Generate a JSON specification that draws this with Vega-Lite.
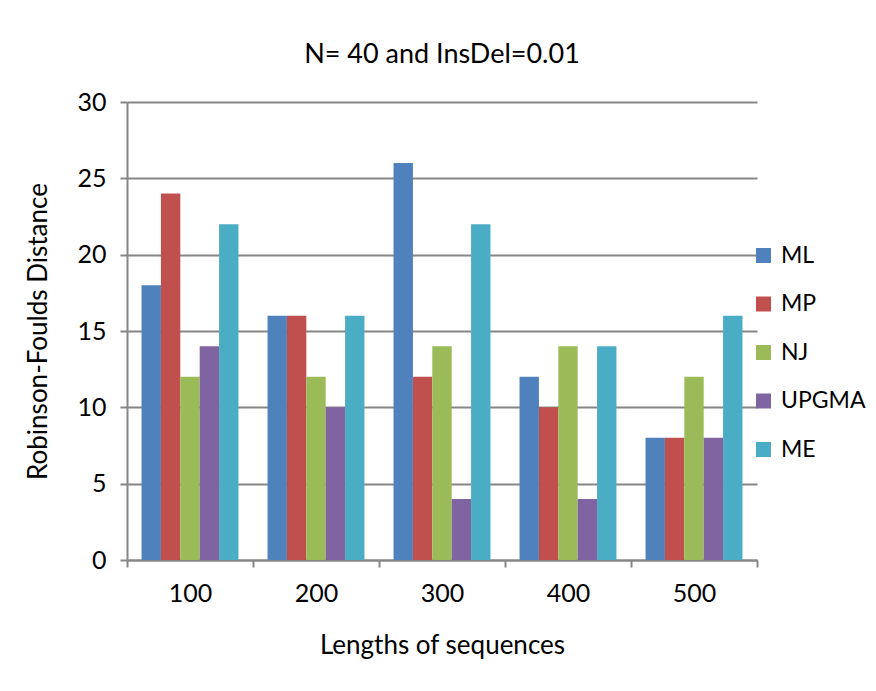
{
  "$schema": "https://vega.github.io/schema/vega-lite/v6.json",
  "width": 630,
  "height": 458,
  "autosize": {"type": "none"},
  "padding": {"left": 127, "top": 102, "right": 119, "bottom": 131},
  "background": "white",
  "title": {"text": "N= 40 and InsDel=0.01", "fontSize": 27, "fontWeight": "normal", "font": "Lato", "color": "#000000", "anchor": "middle", "offset": 21},
  "data": {"values": [
    {"len": "100", "method": "ML", "rf": 18},
    {"len": "100", "method": "MP", "rf": 24},
    {"len": "100", "method": "NJ", "rf": 12},
    {"len": "100", "method": "UPGMA", "rf": 14},
    {"len": "100", "method": "ME", "rf": 22},
    {"len": "200", "method": "ML", "rf": 16},
    {"len": "200", "method": "MP", "rf": 16},
    {"len": "200", "method": "NJ", "rf": 12},
    {"len": "200", "method": "UPGMA", "rf": 10},
    {"len": "200", "method": "ME", "rf": 16},
    {"len": "300", "method": "ML", "rf": 26},
    {"len": "300", "method": "MP", "rf": 12},
    {"len": "300", "method": "NJ", "rf": 14},
    {"len": "300", "method": "UPGMA", "rf": 4},
    {"len": "300", "method": "ME", "rf": 22},
    {"len": "400", "method": "ML", "rf": 12},
    {"len": "400", "method": "MP", "rf": 10},
    {"len": "400", "method": "NJ", "rf": 14},
    {"len": "400", "method": "UPGMA", "rf": 4},
    {"len": "400", "method": "ME", "rf": 14},
    {"len": "500", "method": "ML", "rf": 8},
    {"len": "500", "method": "MP", "rf": 8},
    {"len": "500", "method": "NJ", "rf": 12},
    {"len": "500", "method": "UPGMA", "rf": 8},
    {"len": "500", "method": "ME", "rf": 16}
  ]},
  "mark": {"type": "bar"},
  "encoding": {
    "x": {
      "field": "len", "type": "nominal",
      "scale": {"paddingInner": 0, "paddingOuter": 0},
      "axis": {
        "title": "Lengths of sequences", "titleFontSize": 26, "titleFontWeight": "normal", "titleFont": "Lato", "titleColor": "#000000", "titlePadding": 26,
        "labelAngle": 0, "labelFontSize": 25, "labelFont": "Lato", "labelColor": "#000000", "labelPadding": 14,
        "tickBand": "extent", "tickSize": 7, "tickColor": "#868686", "tickWidth": 2,
        "domainColor": "#868686", "domainWidth": 2, "grid": false
      }
    },
    "xOffset": {"field": "method", "type": "nominal", "sort": ["ML", "MP", "NJ", "UPGMA", "ME"], "scale": {"paddingInner": 0, "paddingOuter": 0.75}},
    "y": {
      "field": "rf", "type": "quantitative",
      "scale": {"domain": [0, 30], "nice": false},
      "axis": {
        "title": "Robinson-Foulds Distance", "titleFontSize": 26, "titleFontWeight": "normal", "titleFont": "Lato", "titleColor": "#000000", "titlePadding": 25,
        "values": [0, 5, 10, 15, 20, 25, 30],
        "labelFontSize": 25, "labelFont": "Lato", "labelColor": "#000000", "labelPadding": 14,
        "tickSize": 7, "tickColor": "#868686", "tickWidth": 2,
        "domainColor": "#868686", "domainWidth": 2,
        "grid": true, "gridColor": "#868686", "gridWidth": 2
      }
    },
    "color": {
      "field": "method", "type": "nominal",
      "sort": ["ML", "MP", "NJ", "UPGMA", "ME"],
      "scale": {"domain": ["ML", "MP", "NJ", "UPGMA", "ME"], "range": ["#4F81BD", "#C0504D", "#9BBB59", "#8064A2", "#4BACC6"]},
      "legend": {
        "title": null, "orient": "none", "legendX": 625, "legendY": 142,
        "symbolType": "square", "symbolSize": 225, "symbolStrokeWidth": 0,
        "labelFontSize": 23, "labelFont": "Lato", "labelColor": "#000000", "labelOffset": 6,
        "rowPadding": 24.5
      }
    }
  },
  "config": {"view": {"stroke": null}}
}
